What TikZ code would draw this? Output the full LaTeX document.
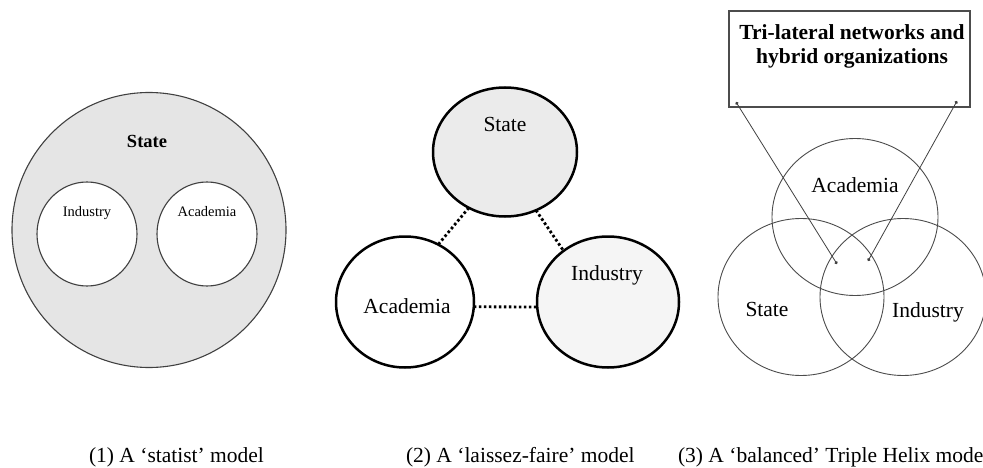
\documentclass[tikz,border=0pt]{standalone}
\usepackage{fontspec}
\setmainfont{Liberation Serif}
\usetikzlibrary{shapes.geometric,arrows.meta}
\begin{document}
\begin{tikzpicture}[x=1pt,y=-1pt,
  every node/.style={inner sep=0pt,outer sep=0pt},
  blob/.style={ellipse,draw,inner sep=0pt},
  thinring/.style={blob,draw=black!75,line width=1.1pt},
  thickring/.style={blob,draw=black,line width=2.5pt},
  venn/.style={blob,draw=black!70,line width=0.9pt,minimum width=166pt,minimum height=157pt},
  lbl/.style={anchor=base,font=\fontsize{21.5}{24}\selectfont},
  smalllbl/.style={anchor=base,font=\fontsize{14.5}{16}\selectfont},
  caption/.style={anchor=base west,font=\fontsize{21.5}{24}\selectfont},
  tie/.style={line width=2.8pt,dash pattern=on 2.6pt off 2.4pt},
  pointer/.style={draw=black!75,line width=0.8pt,{Circle[length=3.2pt]}-{Circle[length=3.2pt]}}
]
\useasboundingbox (0,0) rectangle (983,468);
\clip (0,0) rectangle (983,468);

% (1) statist model: state encloses industry and academia
\node[thinring,fill=black!10,minimum width=274pt,minimum height=275pt] (sState) at (149,230) {};
\node[thinring,fill=white,minimum width=100pt,minimum height=104pt] (sInd) at (87,234) {};
\node[thinring,fill=white,minimum width=100pt,minimum height=104pt] (sAca) at (207,234) {};
\node[anchor=base,font=\fontsize{18.5}{20}\selectfont\bfseries] (sStateLbl) at (147,148) {State};
\node[smalllbl] (sIndLbl) at (87,216) {Industry};
\node[smalllbl] (sAcaLbl) at (207,216) {Academia};

% (2) laissez-faire model: separate spheres with weak ties
\node[thickring,fill=black!8,minimum width=144pt,minimum height=129pt] (lState) at (505,152) {};
\node[thickring,fill=white,minimum width=138pt,minimum height=131pt] (lAca) at (405,302) {};
\node[thickring,fill=black!4,minimum width=142pt,minimum height=131pt] (lInd) at (608,302) {};
\node[lbl] (lStateLbl) at (505,132) {State};
\node[lbl] (lAcaLbl) at (407,313) {Academia};
\node[lbl] (lIndLbl) at (607,280) {Industry};
\draw[tie] (lState.237) -- (lAca.60);
\draw[tie] (lState.-62) -- (lInd.131);
\draw[tie] (lAca.-4) -- (lInd.184);

% (3) balanced Triple Helix model: overlapping spheres
\node[venn] (bAca) at (855,217) {};
\node[venn] (bState) at (801,297) {};
\node[venn] (bInd) at (903,297) {};
\node[lbl] (bAcaLbl) at (855,193) {Academia};
\node[lbl] (bStateLbl) at (767,316) {State};
\node[lbl] (bIndLbl) at (928,317) {Industry};

\node[draw=black!70,line width=1.1pt,minimum width=241pt,minimum height=96pt] (hybrid) at (849.5,59) {};
\node[anchor=base,font=\fontsize{21.5}{24}\selectfont\bfseries] (hybridA) at (852,40) {Tri-lateral networks and};
\node[anchor=base,font=\fontsize{21.5}{24}\selectfont\bfseries] (hybridB) at (852,64) {hybrid organizations};

\coordinate (hL) at (736,102);
\coordinate (hR) at (957,101);
\coordinate (cL) at (837,264);
\coordinate (cR) at (868,261);
\draw[pointer] (hL) -- (cL);
\draw[pointer] (hR) -- (cR);

% captions
\node[caption] (cap1) at (89,462) {(1) A ‘statist’ model};
\node[caption] (cap2) at (406,462) {(2) A ‘laissez-faire’ model};
\node[caption] (cap3) at (678,462) {(3) A ‘balanced’ Triple Helix model};
\end{tikzpicture}
\end{document}
